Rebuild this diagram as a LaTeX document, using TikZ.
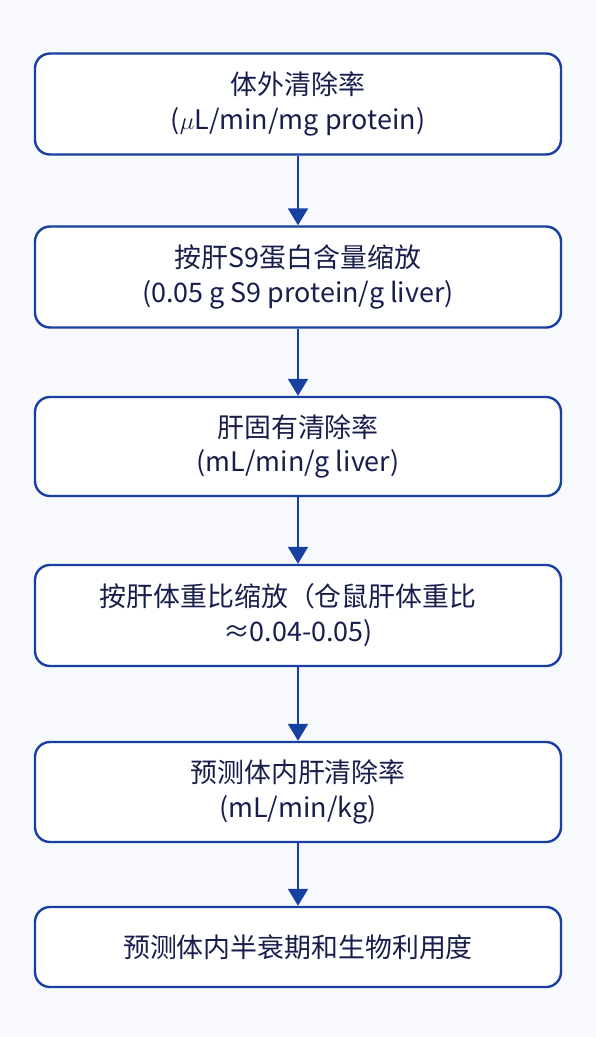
\documentclass[tikz,border=0pt]{standalone}
\usepackage{fontspec}
\setmainfont{Noto Sans CJK SC}
\usetikzlibrary{arrows.meta,positioning}
\definecolor{flowBlue}{RGB}{24,64,160}
\definecolor{flowInk}{RGB}{24,30,76}
\definecolor{flowBack}{RGB}{247,249,252}
\begin{document}
\begin{tikzpicture}[x=1bp,y=-1bp,
  stage/.style={draw=flowBlue,fill=white,line width=2.4bp,rounded corners=15bp,
    minimum width=526bp,minimum height=101bp,align=center,text=flowInk,
    font=\fontsize{27}{35}\selectfont},
  flow/.style={draw=flowBlue,line width=2bp,-{Triangle[length=17bp,width=20bp]}}]
  \fill[flowBack] (0,0) rectangle (596,1037);
  \useasboundingbox (0,0) rectangle (596,1037);
  % stages
  \node[stage] (vitro) at (298,104) {体外清除率\\($\mu$L/min/mg protein)};
  \node[stage] (s9) at (298,277) {按肝S9蛋白含量缩放\\(0.05 g S9 protein/g liver)};
  \node[stage,minimum height=99bp] (intr) at (298,446.5) {肝固有清除率\\(mL/min/g liver)};
  \node[stage] (ratio) at (298,615.5) {按肝体重比缩放（仓鼠肝体重比\hspace*{20bp}\\≈0.04-0.05)};
  \node[stage,minimum height=100bp] (vivo) at (298,792) {预测体内肝清除率\\(mL/min/kg)};
  \node[stage,minimum height=80bp] (half) at (298,947) {预测体内半衰期和生物利用度};
  % connectors
  \draw[flow] (vitro) -- (s9);
  \draw[flow] (s9) -- (intr);
  \draw[flow] (intr) -- (ratio);
  \draw[flow] (ratio) -- (vivo);
  \draw[flow] (vivo) -- (half);
\end{tikzpicture}
\end{document}
